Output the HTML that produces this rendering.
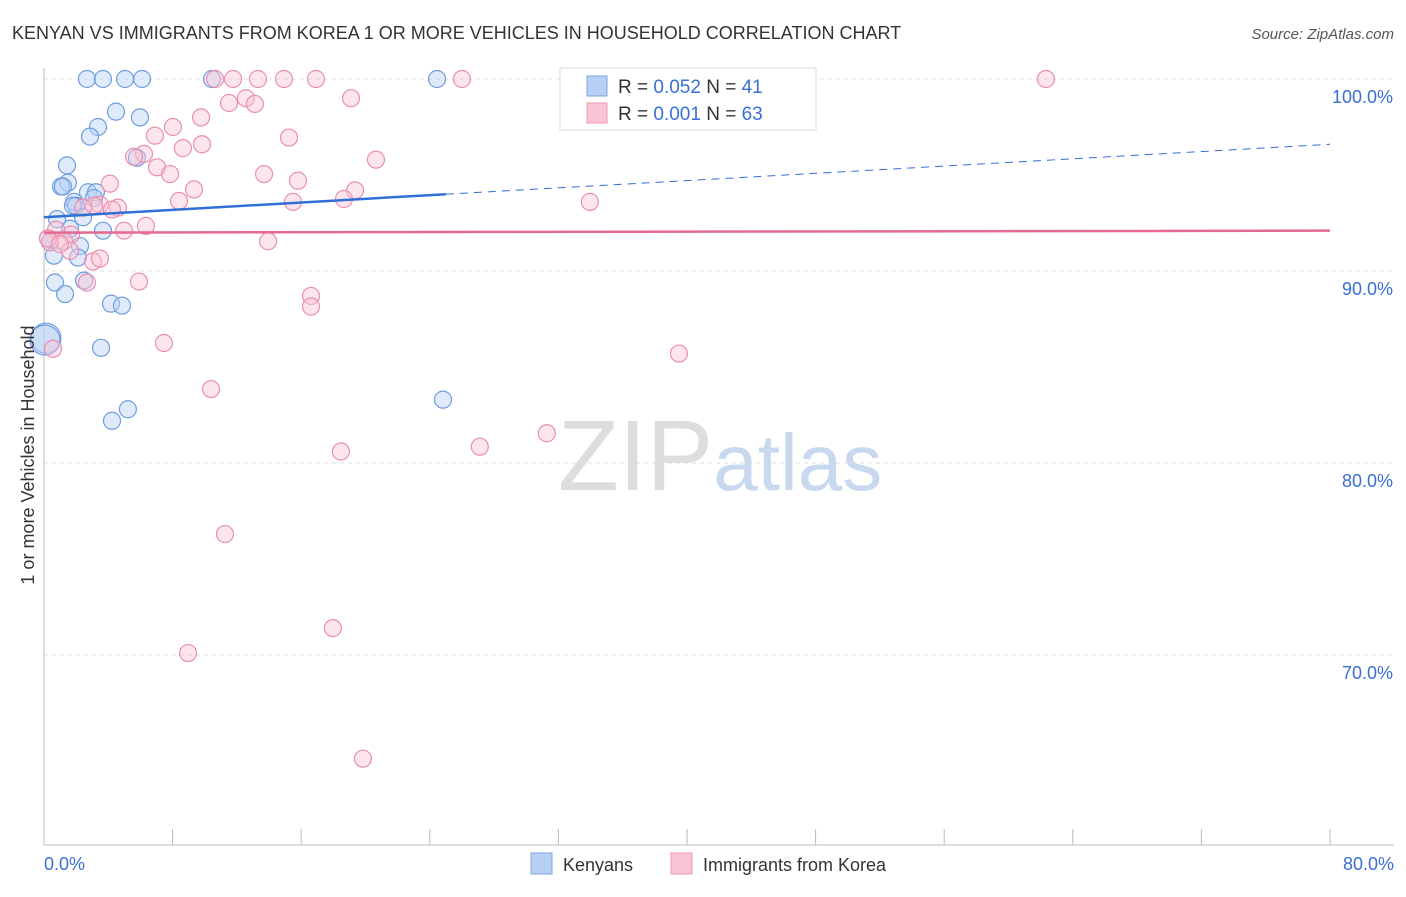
<!DOCTYPE html>
<html><head><meta charset="utf-8"><style>
body{margin:0;background:#fff;font-family:"Liberation Sans",sans-serif;}
svg text{font-family:"Liberation Sans",sans-serif;}
</style></head><body>
<svg id="chart" width="1406" height="892" xmlns="http://www.w3.org/2000/svg">
<text x="12" y="39" font-size="18" fill="#333">KENYAN VS IMMIGRANTS FROM KOREA 1 OR MORE VEHICLES IN HOUSEHOLD CORRELATION CHART</text>
<text x="1394" y="39" font-size="15" fill="#555" text-anchor="end" font-style="italic">Source: ZipAtlas.com</text>
<text x="720" y="490" font-size="100" text-anchor="middle" fill="#ddd" font-family="Liberation Serif">ZIP<tspan fill="#c8d8ee" font-family="Liberation Sans" font-size="80">atlas</tspan></text>
<g id="grid"></g>
<g id="axes"></g>
<g id="marks"></g>
<text transform="translate(34,455) rotate(-90)" font-size="18" fill="#333" text-anchor="middle">1 or more Vehicles in Household</text>
<g>
<rect x="560" y="68" width="256" height="62" fill="#fff" stroke="#ddd"/>
<rect x="587" y="76" width="20" height="20" fill="#b7d0f3" stroke="#7aa6e6"/>
<rect x="587" y="103" width="20" height="20" fill="#f9c5d5" stroke="#ee99b3"/>
<text x="618" y="93" font-size="19" fill="#333">R = <tspan fill="#3a6fd8">0.052</tspan>   N = <tspan fill="#3a6fd8">41</tspan></text>
<text x="618" y="120" font-size="19" fill="#333">R = <tspan fill="#3a6fd8">0.001</tspan>   N = <tspan fill="#3a6fd8">63</tspan></text>
</g>
<g>
<rect x="531" y="853" width="21" height="21" fill="#b7d0f3" stroke="#7aa6e6"/>
<text x="563" y="871" font-size="18" fill="#333">Kenyans</text>
<rect x="671" y="853" width="21" height="21" fill="#f9c5d5" stroke="#ee99b3"/>
<text x="703" y="871" font-size="18" fill="#333">Immigrants from Korea</text>
</g>
</svg>
<script>
const yTicks=[100,90,80,70];
const yTickLabels=["100.0%","90.0%","80.0%","70.0%"];
const xTickLabels=["0.0%","80.0%"];
const kenyanX=[2.67,3.67,5.04,6.1,10.45,24.45,4.48,5.97,3.36,2.86,1.43,5.78,1.49,1.06,1.18,2.74,3.23,1.87,3.11,1.99,0.81,2.43,1.62,3.67,0.37,2.24,0.62,2.11,0.68,2.49,1.31,4.17,4.85,3.55,5.22,4.23,24.82,0.12,0.25,0.06,1.8];
const kenyanY=[100,100,100,100,100,100,98.3,98.0,97.5,97.0,95.5,95.9,94.6,94.4,94.4,94.1,94.1,93.6,93.8,93.4,92.7,92.8,92.2,92.1,91.5,91.3,90.8,90.7,89.4,89.5,88.8,88.3,88.2,86.0,82.8,82.2,83.3,86.5,91.7,86.4,93.4];
const koreaX=[10.64,11.76,13.31,14.93,16.92,26.0,62.33,12.56,19.1,11.51,13.12,9.77,8.02,6.9,15.24,9.83,8.64,6.22,5.6,7.03,7.84,20.65,13.69,15.8,4.1,9.33,19.35,8.4,15.49,18.66,33.96,3.48,4.6,3.11,2.43,6.34,4.98,1.68,0.75,1.24,0.37,1.62,3.05,13.94,5.91,2.67,16.61,16.61,7.46,0.56,39.5,10.39,31.28,27.11,18.47,11.26,17.97,8.96,19.84,0.25,4.23,0.99,3.48];
const koreaY=[100,100,100,100,100,100,100,99.0,99.0,98.75,98.7,98.0,97.5,97.05,96.95,96.6,96.4,96.1,95.95,95.4,95.05,95.8,95.05,94.7,94.55,94.25,94.2,93.65,93.6,93.75,93.6,93.45,93.3,93.4,93.3,92.35,92.1,91.9,92.15,91.55,91.5,91.05,90.5,91.55,89.45,89.4,88.7,88.15,86.25,85.95,85.7,83.85,81.55,80.85,80.6,76.3,71.4,70.1,64.6,91.7,93.2,91.4,90.65];
const kenyanTrend=[[0,92.8],[25,94.0]];
const kenyanTrendDash=[[25,94.0],[80,96.6]];
const koreaTrend=[[0,92.0],[80,92.1]];
const NS="http://www.w3.org/2000/svg";
const X0=44,X1=1330,Y0=79,PER=19.2;
function sx(v){return X0+v/80*(X1-X0);}
function sy(v){return Y0+(100-v)*PER;}
function mk(tag,attrs,parent){const e=document.createElementNS(NS,tag);for(const k in attrs)e.setAttribute(k,attrs[k]);parent.appendChild(e);return e;}
const grid=document.getElementById('grid'),axes=document.getElementById('axes'),marks=document.getElementById('marks');
yTicks.forEach((t,i)=>{
 const l=mk('line',{x1:X0,x2:1394,y1:sy(t),y2:sy(t),stroke:'#ddd','stroke-dasharray':'4,4'},grid);
 
 
 const tx=mk('text',{x:1393,y:sy(t)+24,'font-size':18,fill:'#3a6fd8','text-anchor':'end'},axes);
 tx.textContent=yTickLabels[i];
 
 
});
const ay=mk('line',{x1:X0,x2:X0,y1:68,y2:845,stroke:'#bbb'},axes);


const ax=mk('line',{x1:X0,x2:1394,y1:845,y2:845,stroke:'#bbb'},axes);


for(let i=0;i<=10;i++){
 const t=mk('line',{x1:sx(i*8),x2:sx(i*8),y1:829,y2:845,stroke:'#bbb'},axes);
 
 
}
[[0,'start'],[80,'end']].forEach((p,i)=>{
 const t=mk('text',{x:p[0]==0?44:1394,y:870,'font-size':18,fill:'#3a6fd8','text-anchor':p[1]},axes);
 t.textContent=xTickLabels[i];
 
 
});
function pts(xs,ys,fill,stroke,name){
 xs.forEach((x,i)=>{
  const c=mk('circle',{cx:sx(x),cy:sy(ys[i]),r:(x<0.2)?15:8.5,fill:fill,'fill-opacity':0.45,stroke:stroke,'stroke-width':1.2},marks);
  
  
 });
}
pts(kenyanX,kenyanY,'#b7d0f3','#6f9de0','kenyan-point');
pts(koreaX,koreaY,'#f9c5d5','#ea8fad','korea-point');
const l1=mk('line',{x1:sx(kenyanTrend[0][0]),y1:sy(kenyanTrend[0][1]),x2:sx(kenyanTrend[1][0]),y2:sy(kenyanTrend[1][1]),stroke:'#2f6fd6','stroke-width':2.5},marks);


const l2=mk('line',{x1:sx(kenyanTrendDash[0][0]),y1:sy(kenyanTrendDash[0][1]),x2:sx(kenyanTrendDash[1][0]),y2:sy(kenyanTrendDash[1][1]),stroke:'#2f6fd6','stroke-width':1,'stroke-dasharray':'8,6'},marks);


const l3=mk('line',{x1:sx(koreaTrend[0][0]),y1:sy(koreaTrend[0][1]),x2:sx(koreaTrend[1][0]),y2:sy(koreaTrend[1][1]),stroke:'#e46a94','stroke-width':2.5},marks);


</script>
</body></html>
